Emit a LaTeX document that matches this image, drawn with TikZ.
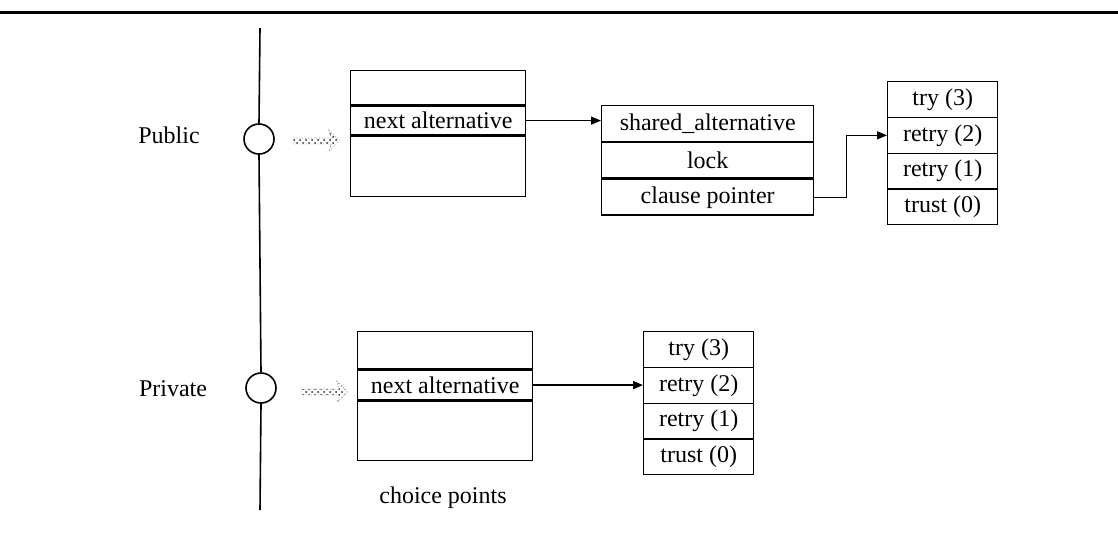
\documentclass[tikz,border=0pt]{standalone}
\usepackage{fontspec}
\setmainfont{Liberation Serif}
\usetikzlibrary{arrows.meta,shapes.arrows,patterns}

\begin{document}
\begin{tikzpicture}[
    x=0.5pt,
    y=-0.5pt,
    >={Triangle[length=5pt,width=4pt]},
    cell/.style={
      draw,
      line width=0.7pt,
      inner sep=0pt,
      anchor=north west,
      font=\fontsize{12}{14}\selectfont
    },
    clause/.style={
      cell,
      minimum width=55pt,
      minimum height=17.875pt
    },
    link/.style={
      ->,
      line width=0.7pt
    },
    handle/.style={
      circle,
      draw,
      line width=0.8pt,
      minimum size=15pt,
      inner sep=0pt
    },
    hint/.style={
      single arrow,
      minimum height=23pt,
      inner sep=1.25pt,
      single arrow head extend=3.75pt,
      single arrow head indent=1pt,
      draw=gray!80,
      densely dotted,
      pattern=crosshatch dots,
      pattern color=black!85
    },
    label text/.style={
      font=\fontsize{12}{14}\selectfont
    }
  ]
    \useasboundingbox (0,0) rectangle (1118,542);

    \coordinate (rulel) at (0,12);
    \coordinate (ruler) at (1118,12);
    \draw[line width=1.5pt] (rulel) -- (ruler);

    % the two handles on the spine
    \coordinate (spinetop) at (260,28);
    \coordinate (spinebot) at (260,510);
    \node[handle] (pubcirc) at (259,139) {};
    \node[handle] (privcirc) at (261,388) {};
    \draw[line width=0.8pt] (spinetop) -- (pubcirc.north);
    \draw[line width=0.8pt] (pubcirc.south) -- (privcirc.north);
    \draw[line width=0.8pt] (privcirc.south) -- (spinebot);

    \node[label text] (publbl) at (169,135) {Public};
    \node[label text] (privlbl) at (173,389) {Private};

    \node[hint] (pubhint) at (315,141) {};
    \node[hint] (privhint) at (323,392) {};

    % public choice point
    \node[cell,minimum width=87.5pt,minimum height=17pt] (pubtop) at (350,70) {};
    \node[cell,minimum width=87.5pt,minimum height=14.5pt] (pubnext) at (pubtop.south west) {next alternative};
    \node[cell,minimum width=87.5pt,minimum height=30pt] (pubbot) at (pubnext.south west) {};

    % shared frame
    \node[cell,minimum width=106pt,minimum height=17.75pt] (shared1) at (601,105) {shared\_alternative};
    \node[cell,minimum width=106pt,minimum height=17.75pt] (shared2) at (shared1.south west) {lock};
    \node[cell,minimum width=106pt,minimum height=17.75pt] (shared3) at (shared2.south west) {clause pointer};

    % private choice point
    \node[cell,minimum width=87.5pt,minimum height=18.5pt] (privtop) at (357,331) {};
    \node[cell,minimum width=87.5pt,minimum height=15pt] (privnext) at (privtop.south west) {next alternative};
    \node[cell,minimum width=87.5pt,minimum height=29.5pt] (privbot) at (privnext.south west) {};

    \node[label text] (cplbl) at (443,498) {choice points};

    % clause lists
    \foreach \t [count=\i] in {{try (3)},{retry (2)},{retry (1)},{trust (0)}}
      \node[clause] (pubc\i) at (887,81+35.75*\i-35.75) {\t};

    \foreach \t [count=\i] in {{try (3)},{retry (2)},{retry (1)},{trust (0)}}
      \node[clause] (privc\i) at (643,331+35.75*\i-35.75) {\t};

    \draw[link] (pubnext.east) -- (pubnext.east -| shared1.west);
    \draw[link] (shared3.east) -- ++(32,0) |- (pubc2.west);
    \draw[link] (privnext.east) -- (privnext.east -| privc2.west);
  \end{tikzpicture}
\end{document}
